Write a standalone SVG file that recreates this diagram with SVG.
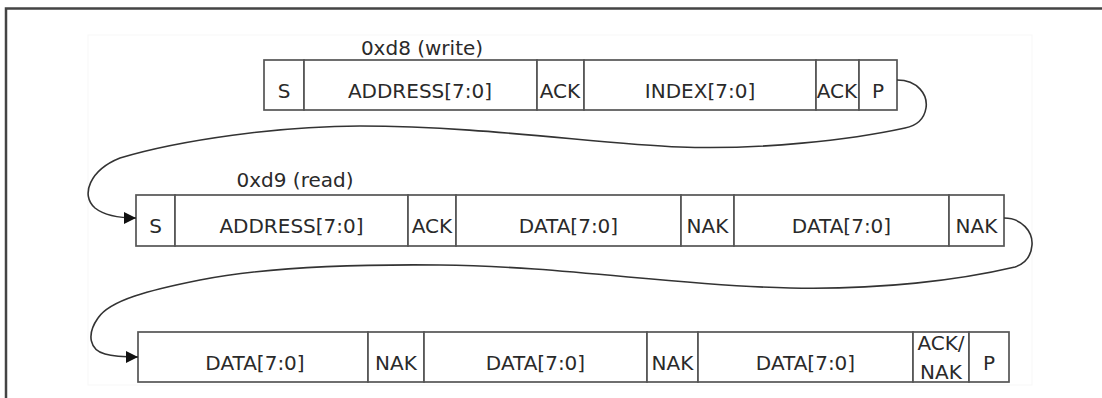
<svg xmlns="http://www.w3.org/2000/svg" width="1102" height="398" viewBox="0 0 1102 398">
<style>
.cell{fill:#fff;stroke:#555;stroke-width:1.7}
.t{font-family:"DejaVu Sans",sans-serif;font-size:20px;fill:#2a2a2a;text-anchor:middle}
.conn{fill:none;stroke:#333;stroke-width:1.6}
</style>
<defs>
<marker id="arr" markerUnits="userSpaceOnUse" markerWidth="14" markerHeight="14" refX="12" refY="6" orient="auto">
<path d="M0,0 L12,6 L0,12 Z" fill="#111"/>
</marker>
</defs>
<rect width="1102" height="398" fill="#fff"/>
<path d="M6,398 L6,8.5 L1102,8.5" fill="none" stroke="#444" stroke-width="2.5"/>
<rect x="88" y="35" width="944" height="350" fill="none" stroke="#f7f7f7" stroke-width="1"/>

<g id="row1">
<text class="t" x="422" y="55">0xd8 (write)</text>
<g id="r1-s"><rect class="cell" x="264" y="60" width="40" height="50"/><text class="t" x="284" y="98">S</text></g>
<g id="r1-addr"><rect class="cell" x="304" y="60" width="233" height="50"/><text class="t" x="420" y="98">ADDRESS[7:0]</text></g>
<g id="r1-ack1"><rect class="cell" x="537" y="60" width="47" height="50"/><text class="t" x="560" y="98">ACK</text></g>
<g id="r1-index"><rect class="cell" x="584" y="60" width="232" height="50"/><text class="t" x="700" y="98">INDEX[7:0]</text></g>
<g id="r1-ack2"><rect class="cell" x="816" y="60" width="43" height="50"/><text class="t" x="837" y="98">ACK</text></g>
<g id="r1-p"><rect class="cell" x="859" y="60" width="38" height="50"/><text class="t" x="878" y="98">P</text></g>
</g>

<g id="row2">
<text class="t" x="295" y="187">0xd9 (read)</text>
<g id="r2-s"><rect class="cell" x="136" y="195" width="39" height="51"/><text class="t" x="155.5" y="233">S</text></g>
<g id="r2-addr"><rect class="cell" x="175" y="195" width="233" height="51"/><text class="t" x="291.5" y="233">ADDRESS[7:0]</text></g>
<g id="r2-ack"><rect class="cell" x="408" y="195" width="48" height="51"/><text class="t" x="432" y="233">ACK</text></g>
<g id="r2-data1"><rect class="cell" x="456" y="195" width="225" height="51"/><text class="t" x="568.5" y="233">DATA[7:0]</text></g>
<g id="r2-nak1"><rect class="cell" x="681" y="195" width="53" height="51"/><text class="t" x="707.5" y="233">NAK</text></g>
<g id="r2-data2"><rect class="cell" x="734" y="195" width="215" height="51"/><text class="t" x="841.5" y="233">DATA[7:0]</text></g>
<g id="r2-nak2"><rect class="cell" x="949" y="195" width="55" height="51"/><text class="t" x="976.5" y="233">NAK</text></g>
</g>

<g id="row3">
<g id="r3-data1"><rect class="cell" x="138" y="332" width="230" height="50"/><text class="t" x="255" y="370">DATA[7:0]</text></g>
<g id="r3-nak1"><rect class="cell" x="368" y="332" width="56" height="50"/><text class="t" x="396" y="370">NAK</text></g>
<g id="r3-data2"><rect class="cell" x="424" y="332" width="223" height="50"/><text class="t" x="535.5" y="370">DATA[7:0]</text></g>
<g id="r3-nak2"><rect class="cell" x="647" y="332" width="51" height="50"/><text class="t" x="672.5" y="370">NAK</text></g>
<g id="r3-data3"><rect class="cell" x="698" y="332" width="215" height="50"/><text class="t" x="805.5" y="370">DATA[7:0]</text></g>
<g id="r3-acknak"><rect class="cell" x="913" y="332" width="56" height="50"/><text class="t" x="941" y="350">ACK/</text><text class="t" x="941" y="379">NAK</text></g>
<g id="r3-p"><rect class="cell" x="969" y="332" width="40" height="50"/><text class="t" x="989" y="370">P</text></g>
</g>

<g id="connectors">
<path class="conn" marker-end="url(#arr)" d="M897,80 C918,80 928,95 926,108 C924,120 915,126 905,128 C850,140 760,150 680,147 C600,144 480,126 360,126 C280,126 180,140 120,158 C90,170 80,195 95,208 C105,216 120,218 136,218"/>
<path class="conn" marker-end="url(#arr)" d="M1004,218 C1022,218 1033,232 1032,245 C1031,258 1024,264 1015,267 C960,280 880,290 790,288 C680,286 560,266 440,265 C340,264 260,268 200,280 C150,290 110,300 98,318 C86,335 90,350 105,354 C115,357 125,357 138,357"/>
</g>
</svg>
